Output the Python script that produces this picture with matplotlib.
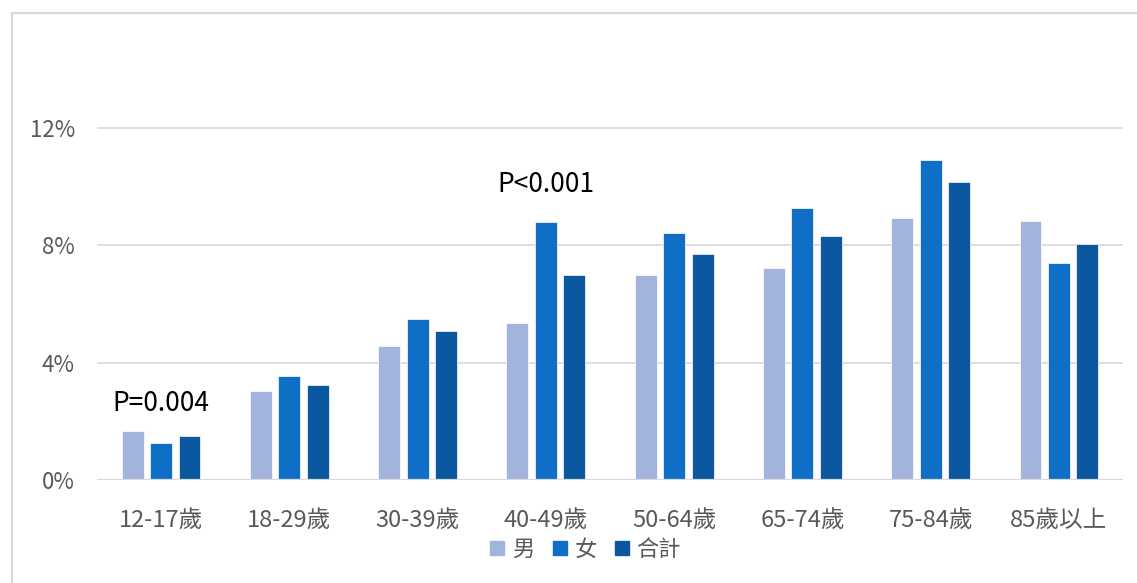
import numpy as np
import matplotlib.pyplot as plt
from matplotlib.lines import Line2D

plt.rcParams['font.family'] = ['Noto Sans CJK TC', 'DejaVu Sans']

age_groups = ['12-17歲', '18-29歲', '30-39歲', '40-49歲', '50-64歲', '65-74歲', '75-84歲', '85歲以上']
series_names = ['男', '女', '合計']
male = [1.68, 3.03, 4.57, 5.35, 6.98, 7.22, 8.92, 8.83]
female = [1.27, 3.53, 5.49, 8.80, 8.43, 9.27, 10.89, 7.38]
total = [1.49, 3.25, 5.07, 6.98, 7.69, 8.31, 10.15, 8.04]
colors = ['#A2B4DC', '#0F6EC6', '#0B58A1']
y_ticks = [0, 4, 8, 12]
p_notes = [(0, 2.6, 'P=0.004'), (3, 10.08, 'P<0.001')]

fig = plt.figure(figsize=(11.37, 5.83), dpi=100)
ax = fig.add_axes([0.0853, 0.1767, 0.9024, 0.755])

x = np.arange(len(age_groups))
width = 0.17
offsets = [-0.222, 0, 0.222]
for vals, off, col in zip([male, female, total], offsets, colors):
    ax.bar(x + off, vals, width, color=col, edgecolor='#ffffff', linewidth=0.5, zorder=3)

ax.set_xlim(-0.5, len(age_groups) - 0.5)
ax.set_ylim(0, 15)
ax.set_yticks(y_ticks)
ax.set_yticklabels([f'{t}%' for t in y_ticks])
ax.set_xticks(x)
ax.set_xticklabels(age_groups)
ax.tick_params(axis='both', length=0, colors='#595959')
ax.tick_params(axis='y', pad=16, labelsize=16)
ax.tick_params(axis='x', pad=21, labelsize=17)
for t in y_ticks[1:]:
    ax.axhline(t, color='#D9D9D9', linewidth=1.2, zorder=1)
for s in ax.spines.values():
    s.set_visible(False)
ax.axhline(0, color='#D9D9D9', linewidth=1.6, zorder=4)

for i, yv, txt in p_notes:
    ax.text(i, yv, txt, ha='center', va='center', fontsize=19, color='#000000')

handles = [Line2D([], [], marker='s', linestyle='none', markersize=10,
                  markerfacecolor=c, markeredgecolor=c) for c in colors]
fig.legend(handles, series_names, loc='center', bbox_to_anchor=(0.5148, 0.058),
           ncol=3, frameon=False, fontsize=16, labelcolor='#595959',
           handlelength=0.7, handletextpad=0.3, columnspacing=0.8)

# outer frame, top and left edges
fig.add_artist(Line2D([12 / 1137, 12 / 1137], [0, 1 - 13 / 583], transform=fig.transFigure,
                      color='#D9D9D9', linewidth=1.6))
fig.add_artist(Line2D([12 / 1137, 1], [1 - 13 / 583, 1 - 13 / 583], transform=fig.transFigure,
                      color='#D9D9D9', linewidth=1.6))

fig.savefig('out.png', dpi=100)
